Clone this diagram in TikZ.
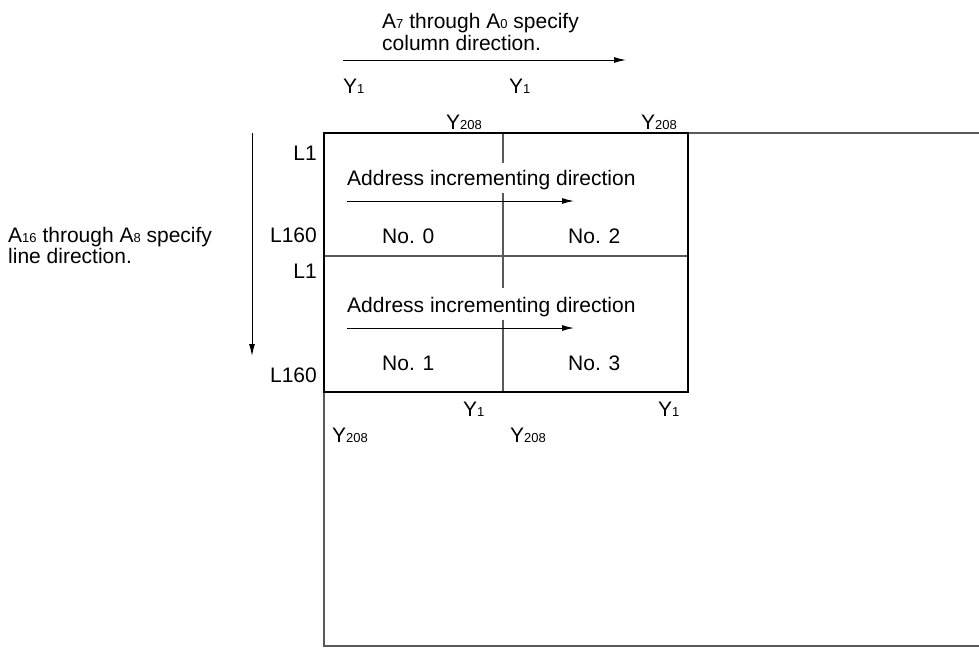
\documentclass[tikz,border=0pt]{standalone}
\usepackage{fontspec}
\setmainfont{Liberation Sans}
\usetikzlibrary{arrows.meta}
\newcommand\sbs[1]{{\fontsize{13}{13}\selectfont #1}}
\begin{document}
\begin{tikzpicture}[x=1pt,y=-1pt,
  lbl/.style={inner sep=0pt,font=\fontsize{21}{22}\selectfont,text=black},
  thinline/.style={draw=black!65,line width=1.2pt},
  frameline/.style={draw=black,line width=2.6pt},
  arr/.style={draw=black,line width=1pt,-{Latex[length=12pt,width=6pt]}}]
\useasboundingbox (0,0) rectangle (979,648);
% outer large area (cut off at right)
\draw[thinline] (979,133) -- (324,133) -- (324,646) -- (979,646);
% inner dividers
\coordinate (vt) at (503,133);
\coordinate (v1a) at (503,163);
\coordinate (v1b) at (503,193);
\coordinate (v2a) at (503,288);
\coordinate (v2b) at (503,320);
\coordinate (vb) at (503,392);
\draw[thinline] (vt) -- (v1a) (v1b) -- (v2a) (v2b) -- (vb);
\coordinate (hl) at (324,256);
\coordinate (hr) at (688,256);
\draw[thinline] (hl) -- (hr);
% thick frame
\draw[frameline] (324,133) rectangle (688,392);
% top annotation
\node[lbl,anchor=base west] (t1a) at (382,28) {A\sbs{7} through A\sbs{0} specify};
\node[lbl,anchor=base west] (t1b) at (382,50) {column direction.};
\coordinate (ca) at (343,60);
\coordinate (cb) at (626,60);
\draw[arr] (ca) -- (cb);
\node[lbl,anchor=base west] (ty1a) at (343,93) {Y\sbs{1}};
\node[lbl,anchor=base west] (ty1b) at (509,93) {Y\sbs{1}};
\node[lbl,anchor=base west] (ty2a) at (446,129) {Y\sbs{208}};
\node[lbl,anchor=base west] (ty2b) at (641,129) {Y\sbs{208}};
% left annotation
\node[lbl,anchor=base west] (l1a) at (8,242) {A\sbs{16} through A\sbs{8} specify};
\node[lbl,anchor=base west] (l1b) at (8,263) {line direction.};
\coordinate (la) at (252,133);
\coordinate (lb) at (252,356);
\draw[arr] (la) -- (lb);
\node[lbl,anchor=base east] (L1a) at (317,160) {L1};
\node[lbl,anchor=base east] (L160a) at (317,242) {L160};
\node[lbl,anchor=base east] (L1b) at (317,278) {L1};
\node[lbl,anchor=base east] (L160b) at (317,382) {L160};
% inside
\node[lbl,anchor=base west] (ad1) at (347,185) {Address incrementing direction};
\coordinate (a1s) at (347,201);
\coordinate (a1e) at (574,201);
\draw[arr] (a1s) -- (a1e);
\node[lbl,anchor=base west] (n0) at (382,243) {No. 0};
\node[lbl,anchor=base west] (n2) at (568,243) {No. 2};
\node[lbl,anchor=base west] (ad2) at (347,312) {Address incrementing direction};
\coordinate (a2s) at (347,328);
\coordinate (a2e) at (574,328);
\draw[arr] (a2s) -- (a2e);
\node[lbl,anchor=base west] (n1) at (382,370) {No. 1};
\node[lbl,anchor=base west] (n3) at (568,370) {No. 3};
% bottom labels
\node[lbl,anchor=base west] (by1a) at (463,416) {Y\sbs{1}};
\node[lbl,anchor=base west] (by1b) at (658,416) {Y\sbs{1}};
\node[lbl,anchor=base west] (by2a) at (332,442) {Y\sbs{208}};
\node[lbl,anchor=base west] (by2b) at (510,442) {Y\sbs{208}};
\end{tikzpicture}
\end{document}
